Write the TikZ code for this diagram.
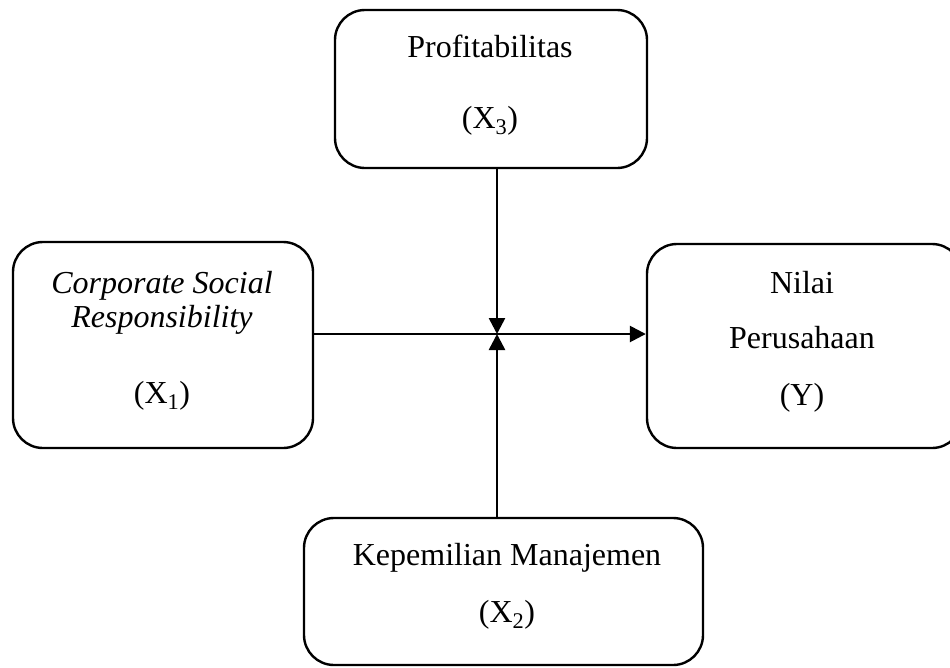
\documentclass[tikz,border=0pt]{standalone}
\usepackage{fontspec}
\setmainfont{Liberation Serif}
\usetikzlibrary{arrows.meta}
\begin{document}
\begin{tikzpicture}[x=1pt,y=-1pt,
  box/.style={draw, line width=2.4pt, rounded corners=30pt, inner sep=0pt},
  lbl/.style={anchor=base, inner sep=0pt, font=\fontsize{32}{38}\selectfont},
  conn/.style={line width=2.6pt, -{Triangle[length=16pt,width=16pt]}}]
\clip (0,0) rectangle (950,667);
\node[box, minimum width=312pt, minimum height=158pt] (T) at (491,89) {};
\node[box, minimum width=300pt, minimum height=206pt] (L) at (163,345) {};
\node[box, minimum width=315pt, minimum height=204pt] (R) at (804.5,346) {};
\node[box, minimum width=399pt, minimum height=147pt] (B) at (503.5,591.5) {};
\node[lbl] (t1) at (490,57) {Profitabilitas};
\node[lbl] (t2) at (490,128) {(X\textsubscript{3})};
\node[lbl] (l1) at (162,293) {\textit{Corporate Social}};
\node[lbl] (l2) at (162,327) {\textit{Responsibility}};
\node[lbl] (l3) at (162,403) {(X\textsubscript{1})};
\node[lbl] (r1) at (802,293) {Nilai};
\node[lbl] (r2) at (802,348) {Perusahaan};
\node[lbl] (r3) at (802,405) {(Y)};
\node[lbl] (b1) at (507,565) {Kepemilian Manajemen};
\node[lbl] (b2) at (507,622) {(X\textsubscript{2})};
\coordinate (J) at (497,334);
\draw[conn] (L.east |- J) -- (R.west |- J);
\draw[conn] (T.south -| J) -- (J);
\draw[conn] (B.north -| J) -- (J);
\end{tikzpicture}
\end{document}
